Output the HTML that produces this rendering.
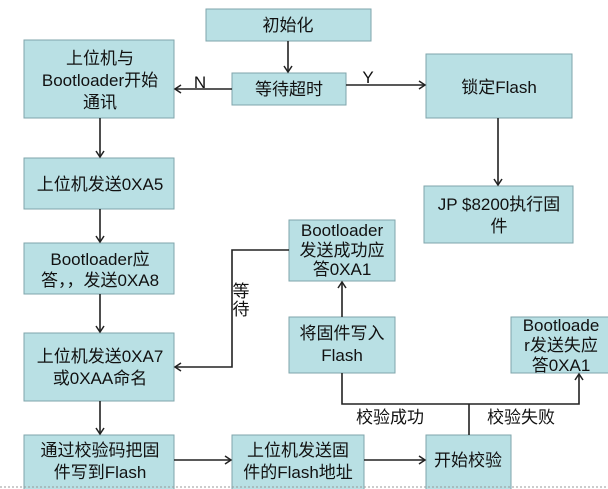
<!DOCTYPE html>
<html><head><meta charset="utf-8"><style>
html,body{margin:0;padding:0;background:#fff;}
svg{display:block;}
text{font-family:"Liberation Sans","Noto Sans CJK SC",sans-serif;font-size:17px;fill:#111;text-anchor:middle;}
rect{fill:#b9e0e4;stroke:#7fa5ab;stroke-width:1;}
line,polyline{stroke:#222;stroke-width:1.6;fill:none;}
</style></head><body>
<svg width="608" height="489" viewBox="0 0 608 489">
<defs><marker id="a" markerWidth="10" markerHeight="10" refX="8" refY="5" orient="auto" markerUnits="userSpaceOnUse"><polyline points="2,1 8,5 2,9" style="stroke:#222;stroke-width:1.5;fill:none"/></marker></defs>
<rect x="206" y="9" width="165" height="32"/><text x="288" y="31">初始化</text>
<rect x="24" y="40" width="150" height="78"/><text x="100" y="64">上位机与</text><text x="100" y="86">Bootloader开始</text><text x="100" y="108">通讯</text>
<rect x="232" y="73" width="114" height="32"/><text x="289" y="95">等待超时</text>
<rect x="426" y="54" width="146" height="64"/><text x="499" y="93">锁定Flash</text>
<rect x="24" y="158" width="150" height="51"/><text x="100" y="190">上位机发送0XA5</text>
<rect x="424" y="186" width="149" height="57"/><text x="499" y="210">JP $8200执行固</text><text x="499" y="232">件</text>
<rect x="289" y="220" width="106" height="61"/><text x="342" y="236">Bootloader</text><text x="342" y="256">发送成功应</text><text x="342" y="275">答0XA1</text>
<rect x="24" y="243" width="150" height="51"/><text x="100" y="265">Bootloader应</text><text x="100" y="286">答，，发送0XA8</text>
<rect x="24" y="333" width="150" height="68"/><text x="100" y="362">上位机发送0XA7</text><text x="100" y="384">或0XAA命名</text>
<rect x="289" y="317" width="106" height="56"/><text x="342" y="339">将固件写入</text><text x="342" y="361">Flash</text>
<rect x="511" y="317" width="100" height="56"/><text x="561" y="331">Bootloade</text><text x="561" y="351">r发送失应</text><text x="561" y="371">答0XA1</text>
<rect x="24" y="435" width="150" height="56"/><text x="100" y="456">通过校验码把固</text><text x="100" y="478">件写到Flash</text>
<rect x="232" y="435" width="132" height="56"/><text x="298" y="456">上位机发送固</text><text x="298" y="478">件的Flash地址</text>
<rect x="426" y="435" width="85" height="56"/><text x="468" y="466">开始校验</text>
<line x1="288" y1="41" x2="288" y2="72" marker-end="url(#a)"/>
<line x1="232" y1="89" x2="175" y2="89" marker-end="url(#a)"/>
<text x="200" y="88">N</text>
<line x1="346" y1="85" x2="425" y2="85" marker-end="url(#a)"/>
<text x="368" y="83">Y</text>
<line x1="498" y1="118" x2="498" y2="185" marker-end="url(#a)"/>
<line x1="100" y1="118" x2="100" y2="157" marker-end="url(#a)"/>
<line x1="100" y1="209" x2="100" y2="242" marker-end="url(#a)"/>
<line x1="100" y1="294" x2="100" y2="332" marker-end="url(#a)"/>
<line x1="100" y1="401" x2="100" y2="434" marker-end="url(#a)"/>
<polyline points="289,250 232,250 232,367 175,367" marker-end="url(#a)"/>
<text x="241" y="297">等</text><text x="241" y="315">待</text>
<line x1="342" y1="317" x2="342" y2="282" marker-end="url(#a)"/>
<polyline points="342,373 342,404 579,404 579,374" marker-end="url(#a)"/>
<line x1="469" y1="435" x2="469" y2="404"/>
<text x="390" y="423">校验成功</text><text x="521" y="423">校验失败</text>
<line x1="174" y1="460" x2="231" y2="460" marker-end="url(#a)"/>
<line x1="364" y1="460" x2="425" y2="460" marker-end="url(#a)"/>
<line x1="0" y1="487" x2="608" y2="487" style="stroke:#999;stroke-width:1;stroke-dasharray:2,2"/>
</svg>
</body></html>
